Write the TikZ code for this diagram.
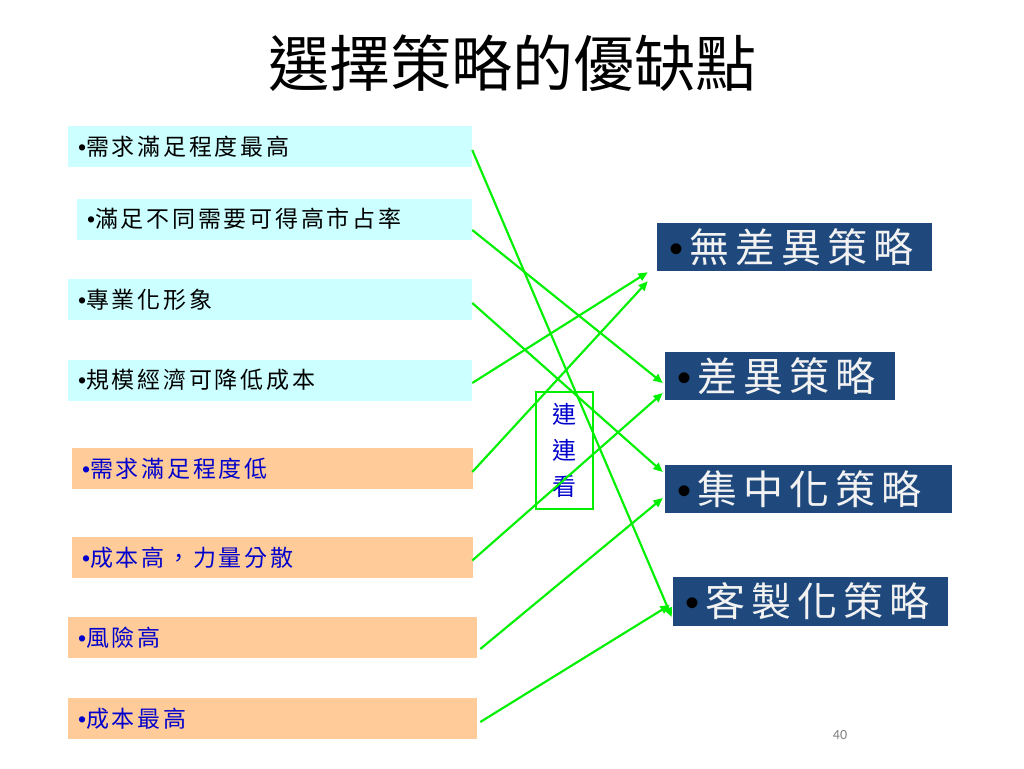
\documentclass[tikz,border=0pt]{standalone}
\usepackage{fontspec}
\setmainfont{Noto Sans CJK TC}
\newfontfamily\smalltxt[LetterSpace=12]{Noto Sans CJK TC}
\newfontfamily\bigtxt[LetterSpace=15]{Noto Sans CJK TC}
\newfontfamily\bulfont{Liberation Sans}
\newfontfamily\pagefont{Carlito}
\newcommand\bul{{\bulfont •}}
\newcommand\bigbul{{\bulfont\color{black}•}\hspace{5pt}}
\usetikzlibrary{
  arrows.meta,
  calc
}
\definecolor{cyanbox}{RGB}{204,255,255}
\definecolor{peachbox}{RGB}{255,204,153}
\definecolor{navybox}{RGB}{31,73,125}
\definecolor{linkgreen}{RGB}{0,240,0}
\definecolor{peachtext}{RGB}{0,0,204}

\begin{document}
\begin{tikzpicture}[
    x=0.75pt, y=-0.75pt,
    pro/.style={
      rectangle, fill=cyanbox, inner xsep=7.5pt, inner ysep=0pt,
      minimum height=30.75pt, align=left,
      font={\smalltxt\fontsize{17.25pt}{20pt}\selectfont}
    },
    con/.style={pro, fill=peachbox, text=peachtext},
    strat/.style={
      rectangle, fill=navybox, text=white!95!black, inner xsep=9pt, inner ysep=0pt,
      minimum height=36pt, align=left,
      font={\bigtxt\fontsize{30pt}{34pt}\selectfont}
    },
    link/.style={-{Triangle[length=7pt,width=6pt]}, draw=linkgreen, line width=1.6pt},
  ]
    \useasboundingbox[fill=white] (0,0) rectangle (1024,768);

    \node[font={\fontsize{45.75pt}{50pt}\selectfont}] (title) at (512,63) {選擇策略的優缺點};

    \node[pro, text width=288pt]    (l1) at (270,146.5)   {\bul 需求滿足程度最高};
    \node[pro, text width=281.25pt] (l2) at (274.5,219)   {\bul 滿足不同需要可得高市占率};
    \node[pro, text width=288pt]    (l3) at (270,299.5)   {\bul 專業化形象};
    \node[pro, text width=288pt]    (l4) at (270,380)     {\bul 規模經濟可降低成本};
    \node[con, text width=285.75pt] (l5) at (272.5,468.5) {\bul 需求滿足程度低};
    \node[con, text width=285.75pt] (l6) at (272.5,557.5) {\bul 成本高，力量分散};
    \node[con, text width=291.75pt] (l7) at (272.5,637.5) {\bul 風險高};
    \node[con, text width=291.75pt] (l8) at (272.5,718.5) {\bul 成本最高};

    \node[strat, text width=188.25pt] (r1) at (794.5,247)   {\bigbul 無差異策略};
    \node[strat, text width=154.5pt]  (r2) at (780,376)     {\bigbul 差異策略};
    \node[strat, text width=197.25pt] (r3) at (808.5,489)   {\bigbul 集中化策略};
    \node[strat, text width=188.25pt, minimum height=36.75pt] (r4) at (810.5,601.5) {\bigbul 客製化策略};

    \node[draw=linkgreen, line width=1.5pt, minimum width=42.75pt, minimum height=87.75pt,
      inner sep=0pt, align=center, text=peachtext,
      font={\fontsize{18pt}{27pt}\selectfont}] (game) at (564.5,450.5) {連\\連\\看};

    \node[font={\pagefont\fontsize{10.5pt}{12pt}\selectfont}, text=gray] (page) at (840,735) {40};

    \foreach \a/\da/\b/\db in {l1/{0,3.5}/r4.west/{-1,15.5}, l2/{0,11}/r2.west/{-2,7},
      l3/{0,3.5}/r3.west/{-2,-17}, l4/{0,3}/r1.south west/{-9,1},
      l5/{-1,3.5}/r1.south west/{-9,10}, l6/{-1,3}/r2.west/{-2,17},
      l7/{3,11.5}/r3.west/{-2,9}, l8/{3,3.5}/r4.west/{-3,3.5}}{
      \draw[link] ($(\a.east)+(\da)$) -- ($(\b)+(\db)$);
    }
  \end{tikzpicture}
\end{document}
